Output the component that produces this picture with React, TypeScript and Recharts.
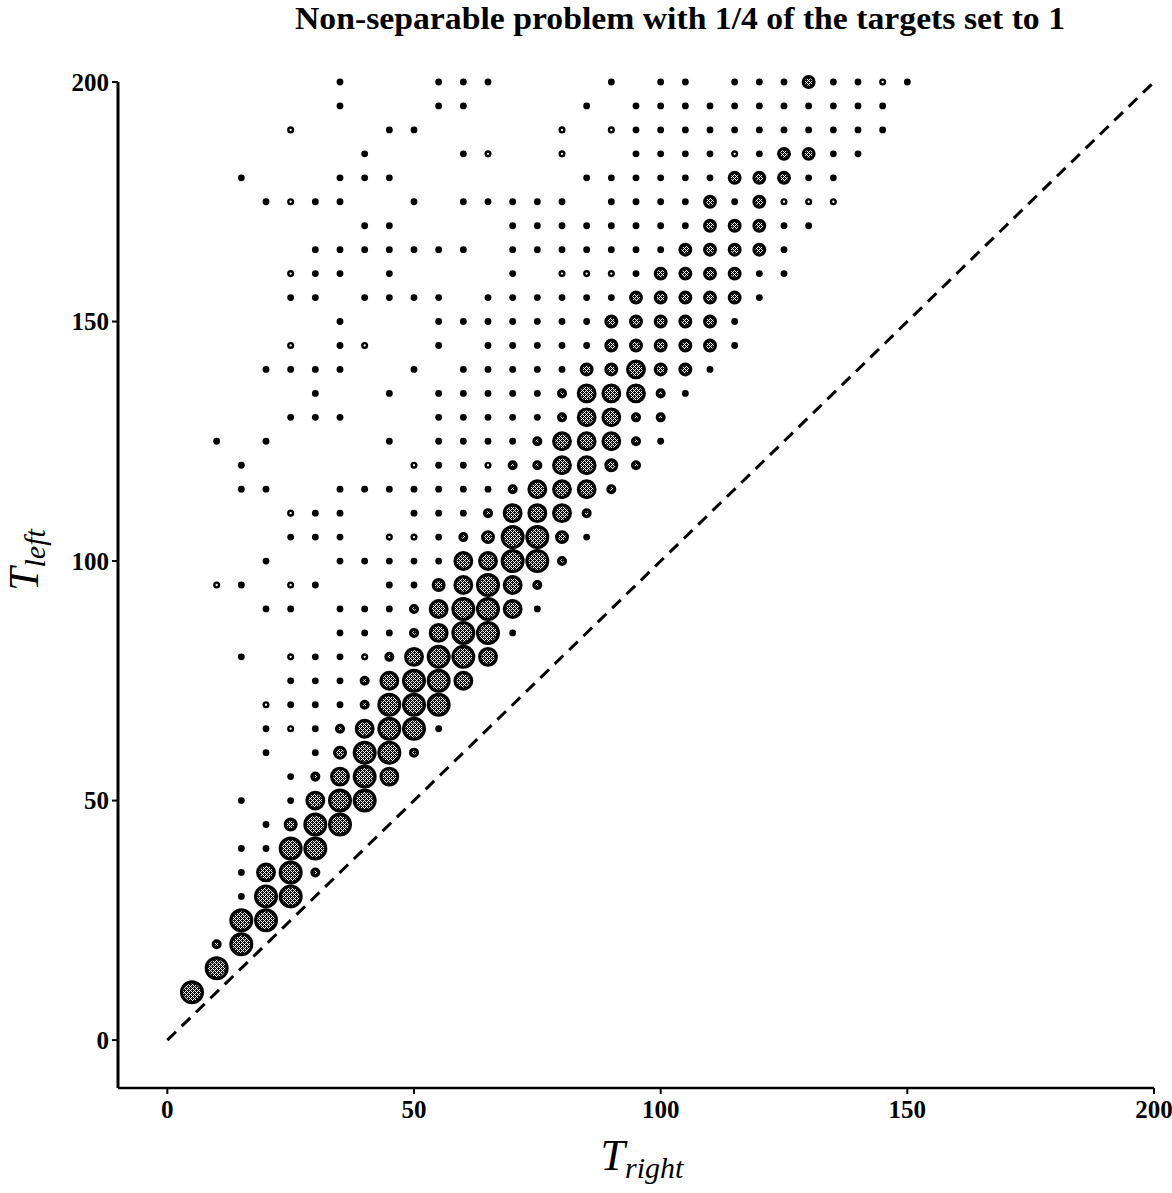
import React from 'react';
import {
  ScatterChart,
  Scatter,
  XAxis,
  YAxis,
  ZAxis,
  ReferenceLine,
  Label,
} from 'recharts';

// each row: [T_left, list of T_right values that carry a marker]
type Row = [number, number[]];

// bubble area is proportional to these weights
const dotWeight = 1.3;
const ringWeight = 1.4;
const smallWeight = 2.8;
const mediumWeight = 5.4;
const bigWeight = 11;
const hugeWeight = 16;

const xTicks = [0, 50, 100, 150, 200];
const yTicks = [0, 50, 100, 150, 200];

const dotRows: Row[] = [
  [200, [35, 55, 60, 65, 90, 100, 105, 115, 120, 125, 135, 140, 150]],
  [195, [35, 55, 60, 85, 95, 100, 105, 110, 115, 120, 125, 130, 135, 140, 145]],
  [190, [45, 50, 95, 100, 105, 110, 115, 120, 125, 130, 135, 140, 145]],
  [185, [40, 60, 95, 100, 105, 110, 120, 135, 140]],
  [180, [15, 35, 40, 45, 85, 90, 95, 100, 105, 110, 130, 135]],
  [175, [20, 30, 35, 50, 60, 65, 70, 75, 80, 90, 95, 100, 105, 115]],
  [170, [40, 45, 70, 75, 80, 85, 90, 95, 100, 105, 125, 130]],
  [165, [30, 35, 40, 45, 50, 55, 60, 70, 75, 80, 85, 90, 95, 100, 125]],
  [160, [30, 35, 45, 70, 95, 120, 125]],
  [155, [25, 30, 40, 45, 50, 55, 65, 70, 75, 80, 85, 90, 120]],
  [150, [35, 55, 60, 65, 70, 75, 80, 85, 115]],
  [145, [35, 55, 65, 70, 75, 80, 85, 115]],
  [140, [20, 25, 30, 35, 50, 60, 65, 70, 75, 80, 110]],
  [135, [30, 45, 55, 60, 65, 70, 75, 105]],
  [130, [25, 30, 35, 55, 60, 65, 70, 75]],
  [125, [10, 20, 45, 55, 60, 65, 70, 100]],
  [120, [15, 55, 60]],
  [115, [15, 20, 35, 40, 45, 50, 55, 60, 65]],
  [110, [30, 35, 50, 55, 60]],
  [105, [25, 30, 35, 55, 85]],
  [100, [20, 35, 40, 45, 50, 55]],
  [95, [15, 30, 45, 50]],
  [90, [20, 25, 35, 40, 45, 75]],
  [85, [35, 40, 45, 70]],
  [80, [15, 30, 35]],
  [75, [25, 30, 35]],
  [70, [25, 30, 35]],
  [65, [20, 30, 55]],
  [60, [20, 30]],
  [55, [25]],
  [50, [15, 25]],
  [45, [20]],
  [40, [15, 20]],
  [35, [15]],
  [30, [15]],
];

const ringRows: Row[] = [
  [200, [145]],
  [190, [25, 80, 90]],
  [185, [65, 80, 115]],
  [175, [25, 125, 130, 135]],
  [160, [25, 80, 85, 90]],
  [145, [25, 40]],
  [120, [50, 65]],
  [110, [25]],
  [105, [45, 50]],
  [95, [10, 25]],
  [80, [25, 40]],
  [70, [20]],
  [65, [25]],
];

const smallRows: Row[] = [
  [135, [80, 100]],
  [130, [80, 95, 100]],
  [125, [75, 95]],
  [120, [70, 75, 95]],
  [115, [70, 90]],
  [110, [65, 85]],
  [105, [60]],
  [100, [80]],
  [95, [75]],
  [90, [50]],
  [85, [50]],
  [80, [45]],
  [75, [40]],
  [70, [40]],
  [65, [35]],
  [60, [50]],
  [55, [30]],
  [35, [30]],
  [20, [10]],
];

const mediumRows: Row[] = [
  [200, [130]],
  [185, [125, 130]],
  [180, [115, 120, 125]],
  [175, [110, 120]],
  [170, [110, 115, 120]],
  [165, [105, 110, 115, 120]],
  [160, [100, 105, 110, 115]],
  [155, [95, 100, 105, 110, 115]],
  [150, [90, 95, 100, 105, 110]],
  [145, [90, 95, 100, 105, 110]],
  [140, [85, 90, 100, 105]],
  [120, [90]],
  [105, [65, 80]],
  [95, [55]],
  [60, [35]],
  [45, [25]],
];

const bigRows: Row[] = [
  [140, [95]],
  [135, [85, 90, 95]],
  [130, [85, 90]],
  [125, [80, 85, 90]],
  [120, [80, 85]],
  [115, [75, 80, 85]],
  [110, [70, 75, 80]],
  [100, [60, 65]],
  [95, [60, 70]],
  [90, [55, 70]],
  [85, [55]],
  [80, [50, 65]],
  [75, [45, 60]],
  [65, [40]],
  [55, [35, 45]],
  [50, [30]],
  [35, [20]],
];

const hugeRows: Row[] = [
  [105, [70, 75]],
  [100, [70, 75]],
  [95, [65]],
  [90, [60, 65]],
  [85, [60, 65]],
  [80, [55, 60]],
  [75, [50, 55]],
  [70, [45, 50, 55]],
  [65, [45, 50]],
  [60, [40, 45]],
  [55, [40]],
  [50, [35, 40]],
  [45, [30, 35]],
  [40, [25, 30]],
  [35, [25]],
  [30, [20, 25]],
  [25, [15, 20]],
  [20, [15]],
  [15, [10]],
  [10, [5]],
];

const toPoints = (rows: Row[], z: number) =>
  rows.flatMap(([y, xs]) => xs.map((x) => ({ x, y, z })));

const serif = "'Liberation Serif', 'Times New Roman', serif";

// white specks of the halftone fill, in a 4x4 tile
const speckles = [
  [0, 0],
  [1, 1],
  [3, 1],
  [2, 2],
  [1, 3],
  [3, 3],
];

const radius = (p: any) => {
  if (p.width) return p.width / 2;
  return Math.sqrt((p.size ?? 28) / Math.PI);
};

const DotShape = (p: any) => (
  <circle cx={p.cx} cy={p.cy} r={radius(p)} fill="#000" />
);

const RingShape = (p: any) => (
  <circle cx={p.cx} cy={p.cy} r={radius(p) - 1.2} fill="#fff" stroke="#000" strokeWidth={2.4} />
);

const ShadedShape = (p: any) => (
  <circle
    cx={p.cx}
    cy={p.cy}
    r={radius(p) - 1.6}
    fill="url(#stipple)"
    stroke="#000"
    strokeWidth={3.2}
  />
);

const XTitle = (props: any) => {
  const vb = props.viewBox ?? { x: 118, y: 1088, width: 1036, height: 100 };
  const cx = vb.x + vb.width / 2 + 6;
  return (
    <text x={cx} y={vb.y + 82} textAnchor="middle" fontFamily={serif} fontStyle="italic" fill="#000">
      <tspan fontSize={44}>T</tspan>
      <tspan fontSize={30} dy={8}>right</tspan>
    </text>
  );
};

const YTitle = () => {
  const cx = 38;
  const cy = 560;
  return (
    <text
      x={cx}
      y={cy}
      transform={`rotate(-90 ${cx} ${cy})`}
      textAnchor="middle"
      fontFamily={serif}
      fontStyle="italic"
      fill="#000"
    >
      <tspan fontSize={42}>T</tspan>
      <tspan fontSize={30} dy={7}>left</tspan>
    </text>
  );
};

const tickStyle = { fill: '#000', fontSize: 25, fontFamily: serif, fontWeight: 'bold' };

export default function App() {
  return (
    <div style={{ position: 'absolute', left: 0, top: 0, width: 1172, height: 1193, background: '#fff' }}>
      <ScatterChart
        width={1172}
        height={1193}
        margin={{ top: 82, right: 18, bottom: 5, left: 38 }}
      >
        <defs>
          <pattern id="stipple" width={4} height={4} patternUnits="userSpaceOnUse">
            <rect width={4} height={4} fill="#111" />
            {speckles.map(([sx, sy]) => (
              <rect key={`${sx}-${sy}`} x={sx} y={sy} width={1} height={1} fill="#fff" />
            ))}
          </pattern>
        </defs>
        <XAxis
          type="number"
          dataKey="x"
          domain={[-10, 200]}
          ticks={xTicks}
          interval={0}
          height={100}
          tickSize={6}
          tickMargin={6}
          axisLine={{ stroke: '#000', strokeWidth: 2.5 }}
          tickLine={{ stroke: '#000', strokeWidth: 2 }}
          tick={tickStyle}
        >
          <Label content={XTitle} />
        </XAxis>
        <YAxis
          type="number"
          dataKey="y"
          domain={[-10, 200]}
          ticks={yTicks}
          interval={0}
          width={80}
          tickSize={6}
          tickMargin={3}
          axisLine={{ stroke: '#000', strokeWidth: 3 }}
          tickLine={{ stroke: '#000', strokeWidth: 2 }}
          tick={tickStyle}
        >
          <Label content={YTitle} />
        </YAxis>
        <ZAxis type="number" dataKey="z" domain={[0, 16]} range={[0, 452]} />
        <ReferenceLine
          segment={[{ x: 0, y: 0 }, { x: 200, y: 200 }]}
          stroke="#000"
          strokeWidth={3}
          strokeDasharray="12 8"
        />
        <Scatter data={toPoints(dotRows, dotWeight)} shape={DotShape} isAnimationActive={false} />
        <Scatter data={toPoints(ringRows, ringWeight)} shape={RingShape} isAnimationActive={false} />
        <Scatter data={toPoints(smallRows, smallWeight)} shape={ShadedShape} isAnimationActive={false} />
        <Scatter data={toPoints(mediumRows, mediumWeight)} shape={ShadedShape} isAnimationActive={false} />
        <Scatter data={toPoints(bigRows, bigWeight)} shape={ShadedShape} isAnimationActive={false} />
        <Scatter data={toPoints(hugeRows, hugeWeight)} shape={ShadedShape} isAnimationActive={false} />
      </ScatterChart>
      <svg width={1172} height={60} style={{ position: 'absolute', left: 0, top: 0 }}>
        <text
          x={680}
          y={29}
          textAnchor="middle"
          fontFamily={serif}
          fontWeight="bold"
          fontSize={32}
          textLength={770}
          lengthAdjust="spacingAndGlyphs"
          fill="#000"
        >
          Non-separable problem with 1/4 of the targets set to 1
        </text>
      </svg>
    </div>
  );
}
